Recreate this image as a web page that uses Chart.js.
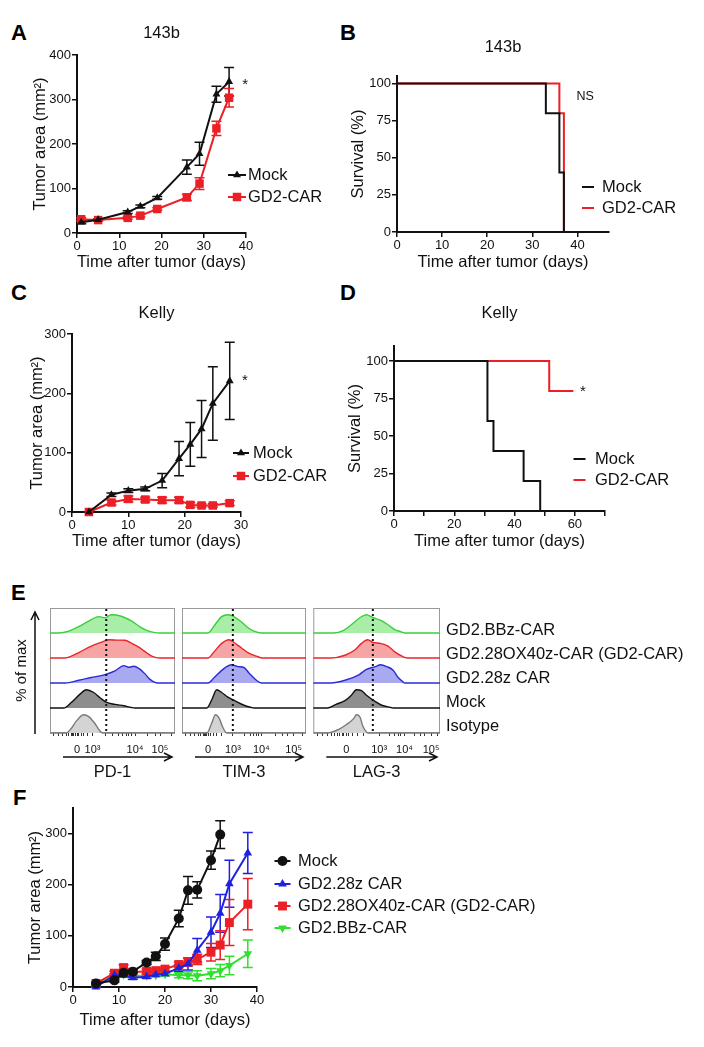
<!DOCTYPE html>
<html>
<head>
<meta charset="utf-8">
<script src="https://cdn.jsdelivr.net/npm/chart.js@4.4.0/dist/chart.umd.min.js"></script>
<style>
  body { margin: 0; background: #fff; width: 704px; height: 1047px; position: relative; overflow: hidden;
         font-family: "Liberation Sans", Arial, Helvetica, sans-serif; }
  canvas { position: absolute; }
  .tag { position: absolute; font-weight: bold; font-size: 22px; line-height: 22px; color: #000; }
</style>
</head>
<body>
<div class="tag" style="left:11px;top:22px">A</div>
<div class="tag" style="left:340px;top:22px">B</div>
<div class="tag" style="left:11px;top:282px">C</div>
<div class="tag" style="left:340px;top:282px">D</div>
<div class="tag" style="left:11px;top:582px">E</div>
<div class="tag" style="left:13px;top:787px">F</div>

<canvas id="chartA" style="left:0px;top:0px" width="352" height="280"></canvas>
<canvas id="chartB" style="left:340px;top:0px" width="364" height="280"></canvas>
<canvas id="chartC" style="left:0px;top:275px" width="352" height="280"></canvas>
<canvas id="chartD" style="left:340px;top:275px" width="364" height="280"></canvas>
<canvas id="chartPD1" style="left:0px;top:600px" width="180" height="185"></canvas>
<canvas id="chartTIM3" style="left:178px;top:600px" width="132" height="185"></canvas>
<canvas id="chartLAG3" style="left:310px;top:600px" width="394" height="185"></canvas>
<canvas id="chartF" style="left:0px;top:790px" width="704" height="257"></canvas>

<script>
// ---- A: 143b tumor growth ----
const aDays = [1, 5, 12, 15, 19, 26, 29, 33, 36];
const aMock = [24, 30, 47, 60, 79, 148, 178, 312, 340];
const aMockErr = [3, 2, 3, 3, 3, 16, 26, 18, 32];
const aCar = [31, 29, 34, 39, 54, 80, 111, 235, 304];
const aCarErr = [3, 2, 3, 3, 3, 7, 13, 16, 21];

// ---- B: 143b survival ----
const bMockDays = [0, 33, 36, 37];
const bMock = [100, 80, 40, 0];
const bCarDays = [0, 36, 37];
const bCar = [100, 80, 0];

// ---- C: Kelly tumor growth ----
const cDays = [3, 7, 10, 13, 16, 19, 21, 23, 25, 28];
const cMock = [0, 29, 36, 39, 53, 90, 114, 140, 183, 221];
const cMockErr = [0, 3, 3, 3, 12, 29, 37, 48, 62, 65];
const cCar = [0, 16, 22, 21, 20, 20, 12, 11, 11, 15];
const cCarErr = [0, 4, 5, 4, 5, 5, 4, 3, 3, 4];

// ---- D: Kelly survival ----
const dMockDays = [0, 31, 33, 43, 48.5];
const dMock = [100, 60, 40, 20, 0];
const dCarDays = [0, 51.5, 59.5];
const dCar = [100, 80, 80];

// ---- E: flow histograms, x = % of panel width, y = % of max ----
const decadeLabels = ['0', '10³', '10⁴', '10⁵'];
const flowRows = ['GD2.BBz-CAR', 'GD2.28OX40z-CAR (GD2-CAR)', 'GD2.28z CAR', 'Mock', 'Isotype'];

const pd1Majors = [21.6, 34, 68, 88];
const pd1Minors = [3, 7, 10, 13, 15, 17, 18, 19, 20, 23, 25, 27, 30, 44, 50, 55, 58, 61, 63, 65, 78, 84, 97];
const pd1Cut = 45;
const pd1Bbz = [[0,0],[7,0],[15,10],[23,35],[31,65],[39,90],[44,84],[49,100],[57,92],[65,66],[73,30],[79,10],[84,2],[88,0],[100,0]];
const pd1Ox40 = [[0,0],[12,0],[17,10],[23,30],[33,65],[41,86],[47,100],[55,98],[60,97],[65,82],[71,60],[76,35],[81,12],[85,2],[88,0],[100,0]];
const pd1Cd28 = [[0,0],[12,0],[23,15],[33,30],[44,46],[52,66],[59,95],[63,86],[67,92],[71,80],[76,50],[80,20],[84,3],[86,0],[100,0]];
const pd1Mock = [[0,0],[11,0],[17,30],[24,76],[29,100],[35,85],[40,56],[45,32],[52,20],[59,12],[65,3],[68,0],[100,0]];
const pd1Iso = [[0,0],[13,0],[17,25],[21,65],[27,100],[31,90],[35,60],[39,20],[41,3],[43,0],[100,0]];

const tim3Majors = [21, 41, 64, 90];
const tim3Minors = [3, 7, 10, 13, 15, 17, 18, 19, 20, 23, 25, 28, 32, 50, 55, 58, 60, 62, 75, 81, 85, 97];
const tim3Cut = 41;
const tim3Bbz = [[0,0],[21,0],[26,40],[32,90],[37,100],[40,95],[44,80],[48,60],[53,30],[58,10],[64,0],[100,0]];
const tim3Ox40 = [[0,0],[21,0],[26,35],[32,80],[38,100],[42,85],[48,55],[53,30],[60,10],[65,0],[100,0]];
const tim3Cd28 = [[0,0],[21,0],[26,30],[33,75],[40,100],[45,90],[50,85],[54,55],[60,15],[64,0],[100,0]];
const tim3Mock = [[0,0],[20,0],[24,45],[28,100],[32,85],[37,60],[44,35],[50,15],[56,3],[58,0],[100,0]];
const tim3Iso = [[0,0],[20,0],[24,55],[27,100],[30,80],[33,30],[36,0],[100,0]];

const lag3Majors = [26, 52, 72, 93];
const lag3Minors = [3, 7, 11, 14, 17, 19, 21, 23, 24, 28, 31, 35, 40, 60, 64, 67, 69, 80, 85, 88, 98];
const lag3Cut = 47;
const lag3Bbz = [[0,0],[16,0],[24,15],[30,45],[37,85],[42,100],[47,85],[53,70],[59,45],[64,20],[70,5],[72,0],[100,0]];
const lag3Ox40 = [[0,0],[14,0],[25,15],[33,45],[38,80],[43,100],[47,85],[53,80],[59,65],[64,35],[70,10],[74,0],[100,0]];
const lag3Cd28 = [[0,0],[14,0],[25,15],[36,45],[42,75],[49,90],[53,100],[58,90],[63,70],[67,30],[71,5],[72,0],[100,0]];
const lag3Mock = [[0,0],[11,0],[18,20],[25,40],[30,70],[34,100],[38,95],[42,70],[49,35],[54,15],[61,3],[63,0],[100,0]];
const lag3Iso = [[0,0],[11,0],[20,20],[26,45],[32,80],[34,100],[37,85],[39,40],[42,5],[43,0],[100,0]];

// ---- F: tumor growth, four groups ----
const fMockDays = [5, 9, 11, 13, 16, 18, 20, 23, 25, 27, 30, 32];
const fMock = [7, 13, 28, 30, 48, 60, 84, 134, 189, 190, 248, 298];
const fMockErr = [2, 3, 4, 4, 4, 8, 12, 16, 27, 16, 18, 27];
const fCarDays = [5, 9, 11, 13, 16, 18, 20, 23, 25, 27, 30, 32, 34, 38];
const fCd28 = [0, 23, 23, 18, 20, 24, 26, 37, 45, 72, 107, 144, 202, 262];
const fCd28Err = [1, 3, 3, 3, 3, 3, 4, 6, 12, 23, 30, 37, 46, 40];
const fOx40 = [7, 27, 38, 29, 31, 32, 35, 44, 49, 54, 68, 82, 126, 162];
const fOx40Err = [2, 4, 5, 4, 4, 4, 4, 5, 8, 10, 17, 28, 45, 50];
const fBbz = [5, 22, 24, 22, 22, 23, 25, 23, 23, 22, 26, 32, 42, 65];
const fBbzErr = [2, 3, 3, 3, 3, 3, 3, 5, 7, 10, 10, 12, 18, 27];

const INK = '#111';
const RED = '#ec1f26';
const BLUE = '#1e22e0';
const GREEN = '#2fe02f';
const FONT = '"Liberation Sans", Arial, Helvetica, sans-serif';
const LH = 16.5 * 1.2;

Chart.defaults.font.family = FONT;
Chart.defaults.color = INK;
Chart.defaults.animation = false;

function pts(xs, ys) {
    return xs.map((x, i) => ({x: x, y: ys[i]}));
}

function pairs(arr) {
    return arr.map(p => ({x: p[0], y: p[1]}));
}

// works out paddings so the plot area lands where it is in the figure (page coords)
function frame(box, area, t) {
    const yLh = t.yLh || LH;
    const pad = {
        left: t.yTitle != null ? t.yTitle - yLh / 2 - box[0] : area.l - box[0],
        right: box[0] + box[2] - area.r,
        top: t.title != null ? t.title - LH / 2 - box[1] : area.t - box[1],
        bottom: box[1] + box[3] - t.xTitle - LH / 2
    };
    return {
        pad: pad,
        yWidth: area.l - box[0] - pad.left,
        xHeight: box[1] + box[3] - pad.bottom - area.b,
        titleGap: t.title != null ? area.t - t.title - LH / 2 : 0
    };
}

function numAxis(o) {
    const ax = {
        type: 'linear',
        position: o.position,
        min: o.min,
        max: o.max,
        afterFit: o.fit,
        grid: {display: true, drawOnChartArea: false, drawTicks: true, tickLength: 5, tickWidth: 1.5, tickColor: INK, color: INK, lineWidth: 1.5},
        border: {display: true, color: INK, width: 2},
        ticks: {stepSize: o.step, includeBounds: false, autoSkip: false, maxRotation: 0, minRotation: 0, padding: 1, color: INK, font: {size: 13}},
        title: {display: true, text: o.title, color: INK, font: {size: 16.5}, padding: 0}
    };
    if (o.label) ax.ticks.callback = o.label;
    return ax;
}

function legendAt(box, cx, half, tx, ys) {
    return {x: cx - box[0], half: half, textX: tx - box[0], rows: ys.map(y => y - box[1])};
}

const errorBars = {
    id: 'errorBars',
    beforeDatasetsDraw(chart) {
        const ctx = chart.ctx;
        chart.data.datasets.forEach((ds, i) => {
            if (!ds.errors) return;
            const meta = chart.getDatasetMeta(i);
            const ys = chart.scales[meta.yAxisID];
            ctx.save();
            ctx.strokeStyle = ds.borderColor;
            ctx.lineWidth = 1.5;
            meta.data.forEach((pt, j) => {
                const e = ds.errors[j];
                if (!e) return;
                const v = ds.data[j].y;
                const top = ys.getPixelForValue(v + e);
                const bot = ys.getPixelForValue(v - e);
                ctx.beginPath();
                ctx.moveTo(pt.x, top); ctx.lineTo(pt.x, bot);
                ctx.moveTo(pt.x - 5, top); ctx.lineTo(pt.x + 5, top);
                ctx.moveTo(pt.x - 5, bot); ctx.lineTo(pt.x + 5, bot);
                ctx.stroke();
            });
            ctx.restore();
        });
    }
};

const sideLegend = {
    id: 'sideLegend',
    afterDraw(chart, args, o) {
        if (!o || !o.rows) return;
        const ctx = chart.ctx;
        ctx.save();
        ctx.font = '16.5px ' + FONT;
        ctx.textBaseline = 'middle';
        chart.data.datasets.forEach((ds, i) => {
            const y = o.rows[i];
            ctx.strokeStyle = ds.borderColor;
            ctx.fillStyle = ds.borderColor;
            ctx.lineWidth = 2;
            ctx.beginPath();
            ctx.moveTo(o.x - o.half, y);
            ctx.lineTo(o.x + o.half, y);
            ctx.stroke();
            if (ds.pointRadius) {
                Chart.helpers.drawPoint(ctx, {pointStyle: ds.pointStyle, rotation: ds.pointRotation || 0, radius: ds.pointRadius, borderWidth: 0}, o.x, y);
            }
            ctx.fillStyle = INK;
            ctx.fillText(ds.label, o.textX, y);
        });
        ctx.restore();
    }
};

const notes = {
    id: 'notes',
    afterDatasetsDraw(chart, args, o) {
        if (!o || !o.items) return;
        const ctx = chart.ctx;
        ctx.save();
        ctx.fillStyle = INK;
        ctx.textAlign = 'center';
        ctx.textBaseline = 'middle';
        o.items.forEach(n => {
            ctx.font = n.size + 'px ' + FONT;
            ctx.fillText(n.text, chart.scales.x.getPixelForValue(n.x), chart.scales.y.getPixelForValue(n.y) + n.drop);
        });
        ctx.restore();
    }
};

function xyChart(id, box, area, t, axes, datasets, legend, noteItems) {
    const f = frame(box, area, t);
    return new Chart(document.getElementById(id), {
        type: 'line',
        data: {datasets: datasets},
        options: {
            responsive: false,
            events: [],
            layout: {padding: f.pad},
            scales: {
                x: numAxis(Object.assign({position: 'bottom', title: 'Time after tumor (days)', fit: s => { s.height = f.xHeight; }}, axes.x)),
                y: numAxis(Object.assign({position: 'left', fit: s => { s.width = f.yWidth; }}, axes.y))
            },
            plugins: {
                legend: {display: false},
                tooltip: {enabled: false},
                title: {display: !!t.text, text: t.text, fullSize: false, color: INK, font: {size: 16.5, weight: 'normal'}, padding: {top: 0, bottom: f.titleGap}},
                sideLegend: legendAt(box, legend[0], legend[1], legend[2], legend[3]),
                notes: {items: noteItems || []}
            }
        },
        plugins: [errorBars, sideLegend, notes]
    });
}

function growth(label, xs, ys, errs, color, style, radius, rotation) {
    return {
        label: label, data: pts(xs, ys), errors: errs,
        borderColor: color, backgroundColor: color, pointBackgroundColor: color, pointBorderColor: color,
        borderWidth: 2, pointStyle: style, pointRadius: radius, pointRotation: rotation || 0, pointBorderWidth: 0,
        clip: false
    };
}

// Kaplan-Meier style: hold the previous value until the next time, then drop
function survival(label, xs, ys, color) {
    return {
        label: label, data: pts(xs, ys), stepped: 'before',
        borderColor: color, backgroundColor: color, borderWidth: 2, pointRadius: 0, clip: false
    };
}

// A
xyChart('chartA', [0, 0, 352, 280], {l: 77, t: 55, r: 246, b: 233},
    {yTitle: 40, xTitle: 262, title: 33, text: '143b'},
    {x: {min: 0, max: 40, step: 10}, y: {min: 0, max: 400, step: 100, title: 'Tumor area (mm²)'}},
    [growth('Mock', aDays, aMock, aMockErr, INK, 'triangle', 4.6),
     growth('GD2-CAR', aDays, aCar, aCarErr, RED, 'rect', 6)],
    [237, 9, 248, [175, 197]],
    [{text: '*', x: 39.8, y: 339, size: 15, drop: 3}]);

// B
xyChart('chartB', [340, 0, 364, 280], {l: 397, t: 76, r: 609, b: 232},
    {yTitle: 358, xTitle: 262, title: 47, text: '143b'},
    {x: {min: 0, max: 47, step: 10}, y: {min: 0, max: 105, step: 25, title: 'Survival (%)'}},
    [survival('Mock', bMockDays, bMock, INK),
     survival('GD2-CAR', bCarDays, bCar, RED)],
    [588, 6, 602, [187, 208]],
    [{text: 'NS', x: 41.7, y: 91.5, size: 12.5, drop: 0}]);

// C
xyChart('chartC', [0, 275, 352, 280], {l: 72, t: 334, r: 241, b: 512},
    {yTitle: 37.5, xTitle: 541, title: 313, text: 'Kelly'},
    {x: {min: 0, max: 30, step: 10}, y: {min: 0, max: 300, step: 100, title: 'Tumor area (mm²)'}},
    [growth('Mock', cDays, cMock, cMockErr, INK, 'triangle', 4.6),
     growth('GD2-CAR', cDays, cCar, cCarErr, RED, 'rect', 6)],
    [241, 8, 253, [453, 476]],
    [{text: '*', x: 30.7, y: 226, size: 15, drop: 3}]);

// D
xyChart('chartD', [340, 275, 364, 280], {l: 394, t: 346, r: 605, b: 511},
    {yTitle: 355, xTitle: 541, title: 313, text: 'Kelly'},
    {x: {min: 0, max: 70, step: 10, label: v => (v % 20 === 0 ? v : '')}, y: {min: 0, max: 110, step: 25, title: 'Survival (%)'}},
    [survival('Mock', dMockDays, dMock, INK),
     survival('GD2-CAR', dCarDays, dCar, RED)],
    [579.5, 6, 595, [459, 480]],
    [{text: '*', x: 62.7, y: 81.3, size: 15, drop: 3}]);

// F
xyChart('chartF', [0, 790, 704, 257], {l: 73, t: 808, r: 257, b: 987},
    {yTitle: 35, xTitle: 1020},
    {x: {min: 0, max: 40, step: 10}, y: {min: 0, max: 350, step: 100, title: 'Tumor area (mm²)'}},
    [growth('Mock', fMockDays, fMock, fMockErr, INK, 'circle', 5),
     growth('GD2.28z CAR', fCarDays, fCd28, fCd28Err, BLUE, 'triangle', 5),
     growth('GD2.28OX40z-CAR (GD2-CAR)', fCarDays, fOx40, fOx40Err, RED, 'rect', 6.3),
     growth('GD2.BBz-CAR', fCarDays, fBbz, fBbzErr, GREEN, 'triangle', 5, 180)],
    [282.5, 8, 298, [861, 884, 906, 928]]);

// ---- E ----
const rowStyles = [
    ['#3acf3a', '#a8eea8'],
    ['#e8262a', '#f6a4a4'],
    ['#2b2bd6', '#a9a9f2'],
    ['#111111', '#8e8e8e'],
    ['#7a7a7a', '#d4d4d4']
];

const flowDecor = {
    id: 'flowDecor',
    beforeDatasetsDraw(chart) {
        const ctx = chart.ctx;
        const a = chart.chartArea;
        ctx.save();
        ctx.strokeStyle = '#9a9a9a';
        ctx.lineWidth = 1;
        ctx.strokeRect(a.left + 0.5, a.top + 0.5, a.width - 1, a.height - 1);
        ctx.restore();
    },
    afterDraw(chart, args, o) {
        const ctx = chart.ctx;
        const a = chart.chartArea;
        ctx.save();
        // dotted gate line
        const gx = chart.scales.x.getPixelForValue(o.cut);
        ctx.strokeStyle = INK;
        ctx.lineWidth = 2;
        ctx.setLineDash([2, 3]);
        ctx.beginPath();
        ctx.moveTo(gx, a.top + 1);
        ctx.lineTo(gx, a.bottom);
        ctx.stroke();
        ctx.setLineDash([]);
        // axis arrow under the ticks
        const ay = a.bottom + 24;
        const tip = a.right - 3;
        ctx.lineWidth = 1.5;
        ctx.beginPath();
        ctx.moveTo(a.left + 13, ay); ctx.lineTo(tip, ay);
        ctx.moveTo(tip - 8, ay - 4); ctx.lineTo(tip, ay); ctx.lineTo(tip - 8, ay + 4);
        ctx.stroke();
        if (o.yArrow) {
            const vx = a.left - 15;
            const vt = a.top + 4;
            ctx.beginPath();
            ctx.moveTo(vx, a.bottom + 1); ctx.lineTo(vx, vt);
            ctx.moveTo(vx - 4, vt + 8); ctx.lineTo(vx, vt); ctx.lineTo(vx + 4, vt + 8);
            ctx.stroke();
        }
        if (o.rowLabels) {
            ctx.fillStyle = INK;
            ctx.font = '16.5px ' + FONT;
            ctx.textBaseline = 'middle';
            chart.data.datasets.forEach((ds, i) => {
                ctx.fillText(ds.label, a.right + 6, a.top + 22 + 24 * i);
            });
        }
        ctx.restore();
    }
};

function flowChart(id, box, area, o) {
    const f = frame(box, area, {yTitle: o.yTitle, yLh: 18, xTitle: 772});
    const tickVals = o.majors.concat(o.minors).sort((p, q) => p - q);
    const scales = {
        x: {
            type: 'linear', position: 'bottom', min: 0, max: 100,
            afterFit: s => { s.height = f.xHeight; },
            afterBuildTicks: s => { s.ticks = tickVals.map(v => ({value: v})); },
            grid: {display: true, drawOnChartArea: false, drawTicks: true, tickLength: 3, tickWidth: 1, tickColor: '#333', color: '#333'},
            border: {display: false},
            ticks: {autoSkip: false, maxRotation: 0, minRotation: 0, padding: 7, color: INK, font: {size: 11},
                    callback: v => { const k = o.majors.indexOf(v); return k < 0 ? '' : decadeLabels[k]; }},
            title: {display: true, text: o.marker, color: INK, font: {size: 16.5}, padding: 0}
        }
    };
    if (o.yTitle != null) {
        scales.lab = {
            type: 'linear', position: 'left', min: 0, max: 1,
            afterFit: s => { s.width = f.yWidth; },
            grid: {display: false, drawTicks: false}, border: {display: false}, ticks: {display: false},
            title: {display: true, text: '% of max', color: INK, font: {size: 15}, padding: 0}
        };
    }
    o.rows.forEach((r, i) => {
        scales['r' + i] = {
            type: 'linear', axis: 'y', position: 'right', stack: 'rows', stackWeight: 1, min: 0, max: 137,
            afterFit: s => { s.width = 0; },
            grid: {display: false, drawTicks: false}, border: {display: false}, ticks: {display: false}
        };
    });
    const datasets = o.rows.map((r, i) => ({
        label: flowRows[i], data: pairs(r), yAxisID: 'r' + i,
        borderColor: rowStyles[i][0], backgroundColor: rowStyles[i][1], fill: 'origin',
        borderWidth: 1.4, pointRadius: 0, cubicInterpolationMode: 'monotone', clip: false
    }));
    return new Chart(document.getElementById(id), {
        type: 'line',
        data: {datasets: datasets},
        options: {
            responsive: false,
            events: [],
            layout: {padding: f.pad},
            scales: scales,
            plugins: {
                legend: {display: false},
                tooltip: {enabled: false},
                flowDecor: {cut: o.cut, yArrow: o.yTitle != null, rowLabels: !!o.rowLabels}
            }
        },
        plugins: [flowDecor]
    });
}

flowChart('chartPD1', [0, 600, 180, 185], {l: 50, t: 608, r: 175, b: 733},
    {yTitle: 22, marker: 'PD-1', majors: pd1Majors, minors: pd1Minors, cut: pd1Cut,
     rows: [pd1Bbz, pd1Ox40, pd1Cd28, pd1Mock, pd1Iso]});

flowChart('chartTIM3', [178, 600, 132, 185], {l: 182, t: 608, r: 306, b: 733},
    {marker: 'TIM-3', majors: tim3Majors, minors: tim3Minors, cut: tim3Cut,
     rows: [tim3Bbz, tim3Ox40, tim3Cd28, tim3Mock, tim3Iso]});

flowChart('chartLAG3', [310, 600, 394, 185], {l: 313, t: 608, r: 440, b: 733},
    {marker: 'LAG-3', majors: lag3Majors, minors: lag3Minors, cut: lag3Cut, rowLabels: true,
     rows: [lag3Bbz, lag3Ox40, lag3Cd28, lag3Mock, lag3Iso]});
</script>
</body>
</html>
